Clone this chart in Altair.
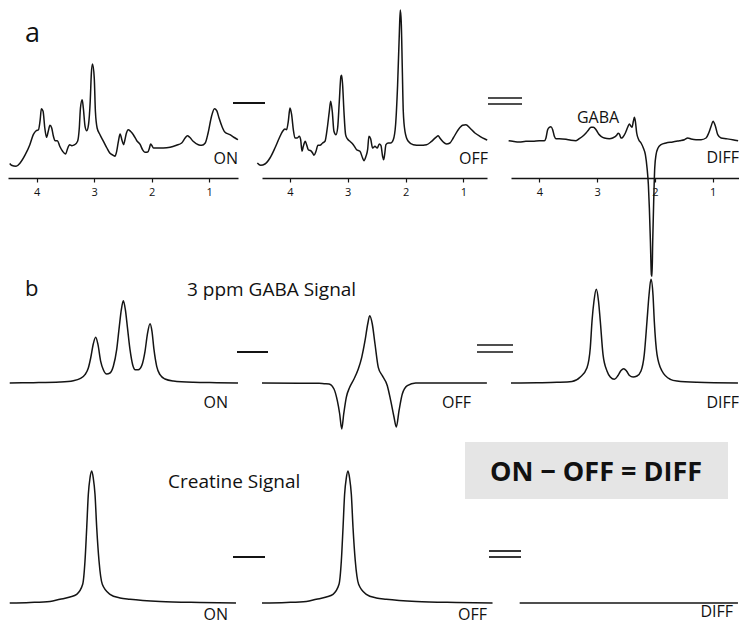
import altair as alt
import pandas as pd

# ---------------- data (ppm, intensity in arbitrary units) ----------------
# Row a: in vivo edited spectra
on_a_ppm = [4.47, 4.44, 4.36, 4.29, 4.20, 4.12, 4.06, 4.01, 3.97, 3.94, 3.92, 3.89, 3.86, 3.83, 3.80,
            3.77, 3.74, 3.71, 3.68, 3.64, 3.60, 3.55, 3.50, 3.46, 3.43, 3.39, 3.34, 3.29, 3.26, 3.24,
            3.21, 3.19, 3.16, 3.13, 3.10, 3.07, 3.05, 3.03, 3.00, 2.98, 2.95, 2.90, 2.84, 2.78, 2.73,
            2.67, 2.64, 2.61, 2.58, 2.55, 2.52, 2.49, 2.47, 2.44, 2.41, 2.37, 2.32, 2.26, 2.20, 2.16,
            2.12, 2.07, 2.04, 2.02, 2.00, 1.97, 1.91, 1.80, 1.68, 1.57, 1.48, 1.42, 1.38, 1.34, 1.28,
            1.19, 1.13, 1.07, 1.02, 0.96, 0.91, 0.87, 0.83, 0.78, 0.73, 0.64, 0.55, 0.50]
on_a_int = [14.5, 12.7, 11.7, 15.0, 23.3, 33.3, 43.3, 47.3, 48.3, 58.3, 69.3, 66.7, 50.0, 40.7, 46.7,
            52.7, 50.0, 41.7, 37.3, 37.3, 31.7, 26.7, 24.0, 30.0, 33.3, 32.3, 33.3, 36.7, 50.0, 70.0,
            78.3, 70.0, 51.7, 47.3, 53.3, 76.7, 105.0, 114.0, 100.0, 66.7, 50.0, 43.3, 36.7, 30.0, 25.0,
            22.7, 21.7, 26.7, 36.7, 44.0, 38.3, 33.3, 37.3, 45.0, 48.3, 46.7, 43.3, 37.3, 33.3, 28.3,
            25.7, 26.0, 30.0, 34.0, 32.7, 30.0, 30.0, 30.0, 30.7, 32.7, 35.0, 40.0, 42.3, 40.7, 36.7,
            33.3, 32.7, 35.0, 45.0, 61.7, 69.3, 67.3, 60.0, 51.7, 46.0, 43.3, 40.0, 38.3]

off_a_ppm = [4.565, 4.507, 4.433, 4.346, 4.260, 4.185, 4.127, 4.087, 4.058, 4.029, 4.000, 3.971, 3.942,
             3.913, 3.873, 3.839, 3.815, 3.792, 3.769, 3.735, 3.712, 3.683, 3.642, 3.608, 3.585, 3.550,
             3.516, 3.481, 3.435, 3.394, 3.354, 3.319, 3.296, 3.268, 3.239, 3.204, 3.175, 3.146, 3.118,
             3.106, 3.089, 3.066, 3.037, 3.008, 2.962, 2.904, 2.847, 2.789, 2.743, 2.720, 2.685, 2.656,
             2.633, 2.604, 2.570, 2.529, 2.489, 2.454, 2.426, 2.397, 2.379, 2.362, 2.339, 2.299, 2.258,
             2.212, 2.172, 2.137, 2.108, 2.091, 2.074, 2.056, 2.039, 2.010, 1.953, 1.866, 1.751, 1.636,
             1.549, 1.474, 1.434, 1.405, 1.347, 1.290, 1.232, 1.174, 1.088, 1.013, 0.955, 0.886, 0.799,
             0.713, 0.626, 0.586]
off_a_int = [15.0, 12.7, 14.0, 20.0, 30.0, 40.0, 46.7, 49.0, 48.3, 56.7, 70.0, 63.3, 48.3,
             40.0, 40.0, 41.7, 38.3, 26.7, 31.7, 36.7, 33.3, 28.3, 27.3, 25.0, 22.7, 26.7,
             32.7, 32.7, 35.0, 36.7, 50.0, 66.7, 76.7, 66.7, 46.7, 43.3, 50.0, 76.7, 101.7,
             102.7, 93.3, 66.7, 43.3, 39.3, 36.7, 33.3, 28.3, 26.7, 20.0, 17.3, 21.7, 28.3,
             41.7, 39.3, 30.0, 31.7, 30.0, 34.0, 32.7, 21.7, 18.3, 23.3, 33.3, 35.0, 35.0,
             38.3, 53.3, 93.3, 143.3, 168.0, 155.7, 110.0, 66.7, 46.7, 36.7, 33.3, 32.7, 33.3,
             36.7, 40.7, 42.3, 40.0, 36.0, 34.0, 35.0, 40.0, 48.3, 52.7, 53.3, 50.0, 45.0,
             41.7, 39.0, 38.0]

diff_a_ppm = [4.531, 4.462, 4.346, 4.231, 4.115, 4.000, 3.913, 3.885, 3.856, 3.827, 3.798, 3.769, 3.740,
              3.711, 3.654, 3.538, 3.452, 3.365, 3.308, 3.250, 3.192, 3.146, 3.106, 3.065, 3.019, 2.973,
              2.932, 2.875, 2.788, 2.731, 2.661, 2.638, 2.615, 2.586, 2.557, 2.511, 2.471, 2.442, 2.413,
              2.396, 2.373, 2.355, 2.338, 2.315, 2.280, 2.240, 2.200, 2.165, 2.136, 2.113, 2.096, 2.078,
              2.061, 2.050, 2.038, 2.021, 2.003, 1.980, 1.946, 1.894, 1.807, 1.692, 1.576, 1.490, 1.432,
              1.374, 1.288, 1.201, 1.115, 1.069, 1.028, 0.994, 0.953, 0.913, 0.855, 0.769, 0.654, 0.560]
diff_a_int = [37.3, 36.7, 36.0, 36.7, 36.7, 37.3, 37.3, 40.0, 48.3, 50.7, 51.3, 48.3, 41.7,
              39.3, 39.3, 38.7, 37.7, 37.3, 39.3, 41.7, 45.0, 48.3, 50.7, 50.7, 48.3, 44.0,
              41.7, 40.0, 39.3, 40.0, 42.7, 44.7, 44.0, 40.0, 40.7, 45.0, 50.7, 54.0, 51.7,
              50.7, 56.7, 60.7, 56.7, 45.0, 38.3, 35.0, 30.0, 23.3, 10.0, -6.7, -30.0, -63.3,
              -96.7, -98.3, -63.3, -23.3, 10.0, 23.3, 30.0, 33.3, 35.0, 36.0, 37.3, 38.3, 40.0,
              39.0, 38.3, 38.3, 40.0, 45.0, 51.7, 56.7, 51.7, 43.3, 40.0, 39.3, 38.3, 37.3]

# Row b: 3 ppm GABA signal (simulated)
on_b_ppm = [4.970, 4.559, 4.096, 3.864, 3.748, 3.661, 3.603, 3.562, 3.516, 3.475, 3.435, 3.388, 3.342,
            3.284, 3.226, 3.168, 3.110, 3.064, 3.029, 2.994, 2.959, 2.925, 2.878, 2.832, 2.786, 2.733,
            2.675, 2.617, 2.577, 2.530, 2.496, 2.461, 2.414, 2.357, 2.270, 2.125, 1.777, 1.371, 1.000]
on_b_int = [0.0, 0.3, 1.0, 2.3, 4.3, 8.3, 15.0, 25.0, 39.3, 45.7, 38.3, 21.7, 13.3,
            9.0, 10.0, 16.7, 33.3, 56.7, 73.3, 82.3, 73.3, 56.7, 33.3, 18.3, 13.3, 13.3,
            17.3, 31.7, 48.3, 59.3, 51.7, 33.3, 16.7, 8.3, 4.0, 2.0, 0.7, 0.3, 0.0]

off_b_ppm = [5.000, 4.345, 3.991, 3.900, 3.814, 3.726, 3.667, 3.625, 3.589, 3.554, 3.508, 3.448, 3.372,
             3.296, 3.235, 3.177, 3.129, 3.094, 3.048, 3.000, 2.942, 2.871, 2.782, 2.722, 2.664, 2.623,
             2.575, 2.517, 2.428, 2.280, 2.044, 1.020]
off_b_int = [0.0, -0.3, -0.3, -0.7, -1.0, -6.0, -17.7, -31.0, -46.0, -31.0, -14.3, -4.3, 4.0,
             14.0, 25.7, 42.3, 59.0, 67.3, 59.0, 39.0, 15.7, 7.3, -2.7, -17.7, -34.0, -44.0,
             -27.7, -11.0, -2.7, 0.0, 0.0, 0.0]

diff_b_ppm = [5.000, 4.550, 4.203, 3.944, 3.800, 3.684, 3.627, 3.597, 3.563, 3.523, 3.485, 3.454, 3.407,
              3.338, 3.281, 3.211, 3.147, 3.095, 3.048, 3.000, 2.948, 2.887, 2.818, 2.749, 2.692, 2.645,
              2.610, 2.576, 2.541, 2.519, 2.472, 2.385, 2.242, 2.126, 1.779, 1.070]
diff_b_int = [0.0, 0.3, 0.7, 1.5, 6.0, 15.3, 35.3, 62.0, 82.0, 93.7, 82.0, 62.0, 28.7,
              12.0, 6.0, 3.7, 7.5, 12.5, 14.3, 12.0, 7.5, 6.0, 7.0, 12.0, 28.7, 62.0,
              88.0, 103.7, 88.0, 62.0, 28.7, 12.0, 3.7, 2.0, 0.7, 0.0]

# Row c: creatine signal (simulated)
on_c_ppm = [4.970, 4.617, 4.270, 4.096, 3.922, 3.805, 3.701, 3.661, 3.631, 3.603, 3.574, 3.544, 3.517,
            3.487, 3.457, 3.417, 3.360, 3.226, 3.052, 2.878, 2.357, 1.661, 1.035]
on_c_int = [0.0, 0.5, 1.5, 3.7, 6.0, 8.7, 18.7, 42.0, 75.3, 108.7, 125.0, 132.0, 125.0,
            108.7, 75.3, 42.0, 18.7, 8.7, 5.0, 3.7, 1.5, 0.5, 0.0]

off_c_ppm = [5.000, 4.570, 4.216, 4.039, 3.862, 3.743, 3.637, 3.596, 3.566, 3.538, 3.508, 3.478, 3.450,
             3.419, 3.389, 3.349, 3.290, 3.154, 2.977, 2.800, 2.269, 1.561, 0.920]
off_c_int = [0.0, 0.5, 1.5, 3.7, 6.0, 8.7, 18.7, 42.0, 75.3, 108.7, 125.0, 132.0, 125.0,
             108.7, 75.3, 42.0, 18.7, 8.7, 5.0, 3.7, 1.5, 0.5, 0.0]

diff_c_ppm = [4.85, 3.00, 1.07]
diff_c_int = [0.0, 0.0, 0.0]

# ---------------- styling ----------------
LINE = "#141414"
FONT = "Open Sans"
ONE = pd.DataFrame({"k": [0]})

COLW = [230, 225, 228]
ROWH = [170, 244, 182]
X_A = [[0.5, 4.5], [0.59, 4.484], [0.545, 4.49]]
X_BC = [[1.0, 5.0], [1.018, 5.0], [1.052, 5.0]]
Y_A, Y_B, Y_C = [0, 170], [-49, 195], [-21, 161]


def spectrum(ppm, inten, xdom, ydom, axis=False):
    df = pd.DataFrame(list(zip(ppm, inten)), columns=["ppm", "I"])
    if axis:
        ax = alt.Axis(values=[4, 3, 2, 1], format="d", title=None, grid=False,
                      domainColor=LINE, domainWidth=1.4, tickColor=LINE, tickWidth=1.2,
                      tickSize=4, labelFont=FONT, labelFontSize=11, labelColor="#111",
                      labelPadding=4, labelOverlap=False)
    else:
        ax = None
    return alt.Chart(df).mark_line(color=LINE, strokeWidth=1.5, strokeJoin="round",
                                   strokeCap="butt", interpolate="monotone",
                                   clip=False).encode(
        x=alt.X("ppm:Q", scale=alt.Scale(domain=xdom, reverse=True, nice=False, zero=False),
                axis=ax),
        y=alt.Y("I:Q", scale=alt.Scale(domain=ydom, nice=False, zero=False), axis=None),
        order=alt.Order("ppm:Q", sort="descending"),
    )


def label(txt, x, y, size=16, align="right", weight="normal"):
    return alt.Chart(ONE).mark_text(font=FONT, fontSize=size, align=align, baseline="alphabetic",
                                    color="#111", fontWeight=weight).encode(
        x=alt.value(x), y=alt.value(y), text=alt.value(txt))


def bar(x1, x2, y, sw=2.0):
    return alt.Chart(ONE).mark_rule(color=LINE, strokeWidth=sw).encode(
        x=alt.value(x1), x2=alt.value(x2), y=alt.value(y))


def box(x1, x2, y1, y2):
    return alt.Chart(ONE).mark_rect(color="#e5e5e5").encode(
        x=alt.value(x1), x2=alt.value(x2), y=alt.value(y1), y2=alt.value(y2))


# ---------- row a ----------
a1 = alt.layer(
    spectrum(on_a_ppm, on_a_int, X_A[0], Y_A, axis=True),
    label("a", 17, 34, size=27, align="left"),
    label("ON", 230, 156),
    bar(225, 257, 95),
).properties(width=COLW[0], height=ROWH[0])

a2 = alt.layer(
    spectrum(off_a_ppm, off_a_int, X_A[1], Y_A, axis=True),
    label("OFF", 226, 156),
    bar(226, 260, 90, 1.7),
    bar(226, 260, 96, 1.7),
).properties(width=COLW[1], height=ROWH[0])

a3 = alt.layer(
    spectrum(diff_a_ppm, diff_a_int, X_A[2], Y_A, axis=True),
    label("GABA", 87, 115, align="center"),
    label("DIFF", 228, 155),
).properties(width=COLW[2], height=ROWH[0])

# ---------- row b ----------
b1 = alt.layer(
    spectrum(on_b_ppm, on_b_int, X_BC[0], Y_B),
    label("b", 17, 108, size=22, align="left"),
    label("3 ppm GABA Signal", 179, 108, size=19, align="left"),
    label("ON", 220, 220, size=16),
    bar(229, 260, 164),
).properties(width=COLW[0], height=ROWH[1])

b2 = alt.layer(
    spectrum(off_b_ppm, off_b_int, X_BC[1], Y_B),
    label("OFF", 209, 220, size=16),
    bar(215, 251, 157, 1.7),
    bar(215, 251, 164, 1.7),
).properties(width=COLW[1], height=ROWH[1])

b3 = alt.layer(
    spectrum(diff_b_ppm, diff_b_int, X_BC[2], Y_B),
    label("DIFF", 228, 220, size=16),
).properties(width=COLW[2], height=ROWH[1])

# ---------- row c ----------
c1 = alt.layer(
    spectrum(on_c_ppm, on_c_int, X_BC[0], Y_C),
    label("Creatine Signal", 160, 46, size=19, align="left"),
    label("ON", 220, 178, size=16),
    bar(225, 257, 115),
).properties(width=COLW[0], height=ROWH[2])

c2 = alt.layer(
    spectrum(off_c_ppm, off_c_int, X_BC[1], Y_C),
    label("OFF", 225, 178, size=16),
    bar(227, 259, 109, 1.7),
    bar(227, 259, 115, 1.7),
).properties(width=COLW[1], height=ROWH[2])

c3 = alt.layer(
    box(-46, 217, 0, 57),
    label("ON − OFF = DIFF", 85, 39, size=27, align="center", weight="bold"),
    spectrum(diff_c_ppm, diff_c_int, X_BC[2], Y_C),
    label("DIFF", 222, 175, size=16),
).properties(width=COLW[2], height=ROWH[2])

chart = alt.concat(
    a1, a2, a3, b1, b2, b3, c1, c2, c3,
    columns=3,
    spacing={"row": 10, "column": 24},
    bounds="flush",
    align="each",
).properties(
    padding=0, background="white",
).configure_view(stroke=None).configure_text(font=FONT)

chart.save("out.html", embed_options={"renderer": "svg", "actions": False})
